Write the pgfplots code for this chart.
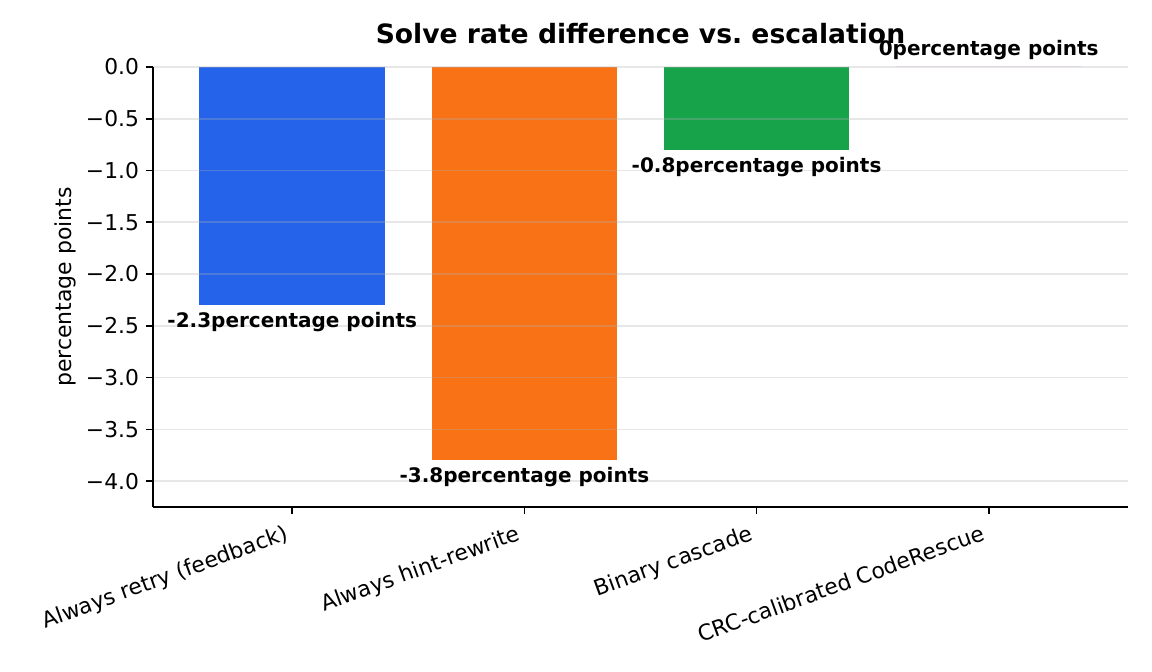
\documentclass[border=0pt]{standalone}
\usepackage{pgfplots}
\pgfplotsset{compat=1.18}
\usepackage{fontspec}
\setmainfont{DejaVu Sans}
\definecolor{cblue}{HTML}{2563EB}
\definecolor{corange}{HTML}{F97316}
\definecolor{cgreen}{HTML}{16A34A}
\definecolor{cpurple}{HTML}{9333EA}
\definecolor{gridgray}{HTML}{B0B0B0}
\begin{document}
\begin{tikzpicture}
\useasboundingbox (-76.5pt,-82.5pt) rectangle (499.5pt,253.5pt);
\begin{axis}[
  at={(0pt,0pt)}, anchor=south west,
  scale only axis, width=487.5pt, height=220pt,
  xmin=-0.6, xmax=3.6, ymin=-4.25, ymax=0,
  axis x line*=bottom, axis y line*=left,
  axis line style={black, line width=0.8pt},
  axis on top,
  clip=false,
  ybar, bar width=0.8,
  xtick={0,1,2,3},
  xticklabels={Always retry (feedback),Always hint-rewrite,Binary cascade,CRC-calibrated CodeRescue},
  xticklabel style={rotate=20, anchor=north east, font=\fontsize{10.9}{13}\selectfont, inner sep=2pt, xshift=-3.5pt, yshift=-1pt},
  ytick={-4,-3.5,-3,-2.5,-2,-1.5,-1,-0.5,0},
  yticklabels={−4.0,−3.5,−3.0,−2.5,−2.0,−1.5,−1.0,−0.5,0.0},
  yticklabel style={font=\fontsize{10.9}{13}\selectfont},
  ymajorgrids, grid style={color=gridgray, opacity=0.3, line width=0.8pt},
  tick align=outside, major tick length=3.5pt,
  tick style={black, line width=0.8pt},
  title={Solve rate difference vs.\ escalation},
  title style={font=\bfseries\fontsize{13.3}{16}\selectfont, at={(0.5,1)}, anchor=base, yshift=5.5pt},
  ylabel={percentage points},
  every axis y label/.style={at={(axis description cs:-0.09,0.5)}, rotate=90, anchor=center, font=\fontsize{11}{13}\selectfont},
  nodes near coords, point meta=explicit symbolic,
  every node near coord/.append style={font=\bfseries\fontsize{10}{12}\selectfont, black},
]
\addplot[fill=cblue, draw=none, bar shift=0pt, every node near coord/.append style={anchor=north}] coordinates {(0,-2.3) [-2.3percentage points]};
\addplot[fill=corange, draw=none, bar shift=0pt, every node near coord/.append style={anchor=north}] coordinates {(1,-3.8) [-3.8percentage points]};
\addplot[fill=cgreen, draw=none, bar shift=0pt, every node near coord/.append style={anchor=north}] coordinates {(2,-0.8) [-0.8percentage points]};
\addplot[fill=cpurple, draw=none, bar shift=0pt] coordinates {(3,0) [0percentage points]};
\end{axis}
\end{tikzpicture}
\end{document}
